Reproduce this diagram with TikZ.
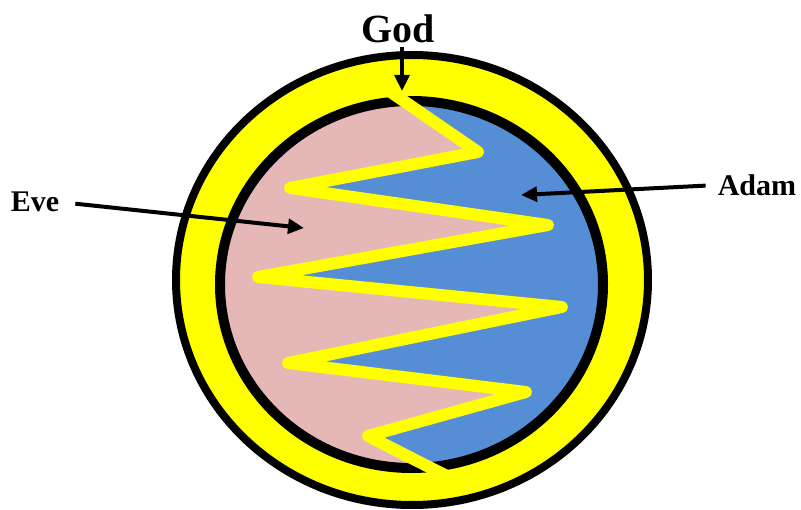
\documentclass[tikz,border=0pt]{standalone}
\usepackage{fontspec}
\setmainfont{Liberation Serif}
\usepackage{xcolor}
\usepackage{tikz}
\usetikzlibrary{arrows.meta,calc}

\definecolor{evepink}{HTML}{E5B8B7}
\definecolor{adamblue}{HTML}{558ED5}
\definecolor{godyellow}{RGB}{255,255,0}

\begin{document}
\begin{tikzpicture}[
  x=0.75pt, y=-0.75pt,
  who/.style={font=\fontsize{22.5}{26}\selectfont\bfseries, inner sep=0pt},
  godtext/.style={font=\fontsize{30}{34}\selectfont\bfseries, inner sep=0pt},
  arrow/.style={-{Triangle[length=12pt,width=11pt]}, line width=3pt},
  ring/.style={draw=black, line width=#1},
  zigzag/.style={draw=godyellow, line width=9pt, line join=round}
]
\useasboundingbox (0,0) rectangle (801,510);

% outer yellow ring
\draw[ring=6pt, fill=godyellow] (412,280) ellipse [x radius=236, y radius=225];

% Eve and Adam halves
\begin{scope}
  \clip (411.5,284.5) ellipse [x radius=192, y radius=184];
  \fill[evepink] (200,80) rectangle (620,490);
  \fill[adamblue] (375,81) -- (395,95) -- (478,152) -- (290,188) -- (548,225)
    -- (258,277) -- (562,307) -- (288,363) -- (526,392) -- (368,436)
    -- (435,470) -- (455,480) -- (455,560) -- (700,560) -- (700,0) -- (375,0) -- cycle;
\end{scope}
\draw[ring=7.5pt] (411.5,284.5) ellipse [x radius=191.5, y radius=183.5];

% the line between them
\draw[zigzag] (375,81) -- (395,95) -- (478,152) -- (290,188) -- (548,225)
  -- (258,277) -- (562,307) -- (288,363) -- (526,392) -- (368,436)
  -- (435,470) -- (455,480);

% labels
\node[godtext] (god) at (398,29) {God};
\node[who] (eve) at (35,202) {Eve};
\node[who] (adam) at (757,185) {Adam};

\coordinate (godtip) at (402,91);
\coordinate (evetip) at (304,228);
\coordinate (adamtip) at (521,195);

\draw[arrow, shorten <=3pt] (godtip |- god.south) -- (godtip);
\draw[arrow, shorten <=12pt] (eve.east) -- (evetip);
\draw[arrow, shorten <=9pt] (adam.west) -- (adamtip);

\end{tikzpicture}
\end{document}
